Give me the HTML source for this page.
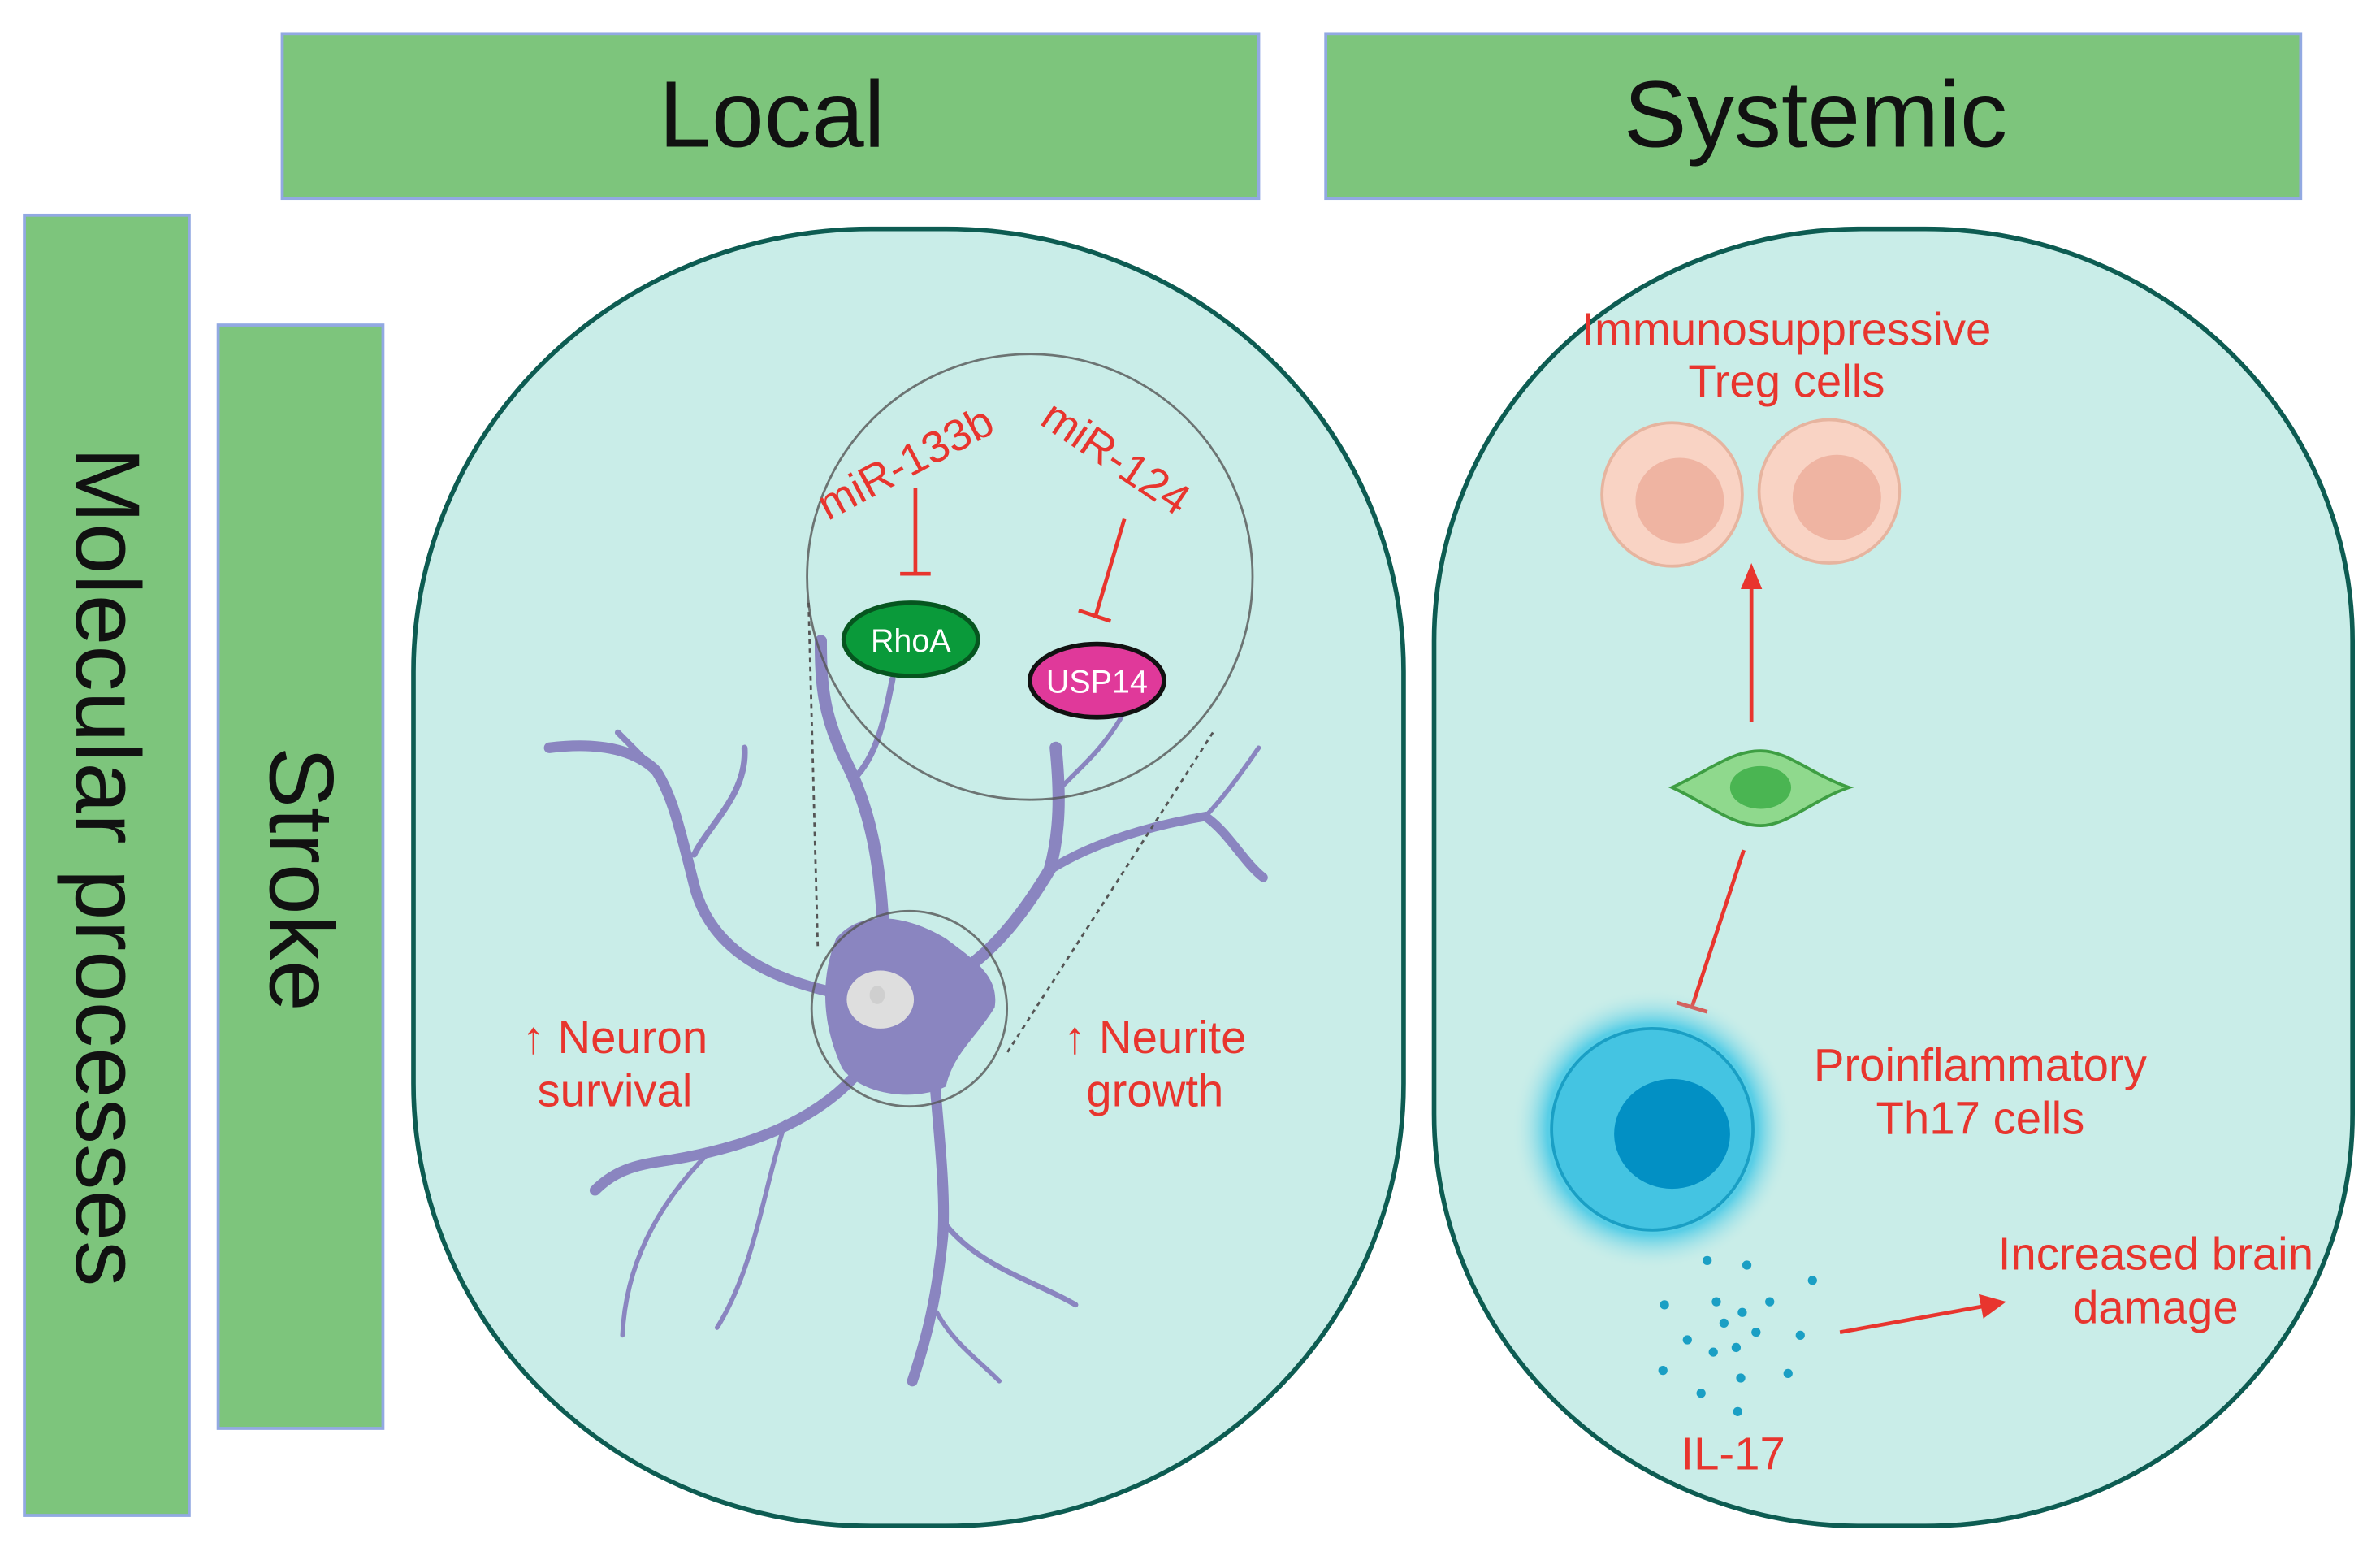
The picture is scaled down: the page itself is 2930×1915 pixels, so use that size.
<!DOCTYPE html>
<html><head><meta charset="utf-8"><style>
html,body{margin:0;padding:0;background:#fff;}
svg{display:block;}
text{font-family:"Liberation Sans",sans-serif;}
</style></head><body>
<svg width="2930" height="1915" viewBox="0 0 1560 1019.6" xmlns="http://www.w3.org/2000/svg">
<defs>
<radialGradient id="glow" cx="0.5" cy="0.5" r="0.5">
<stop offset="0.75" stop-color="#3cc6e6" stop-opacity="0.8"/>
<stop offset="1" stop-color="#c9ede8" stop-opacity="0"/>
</radialGradient>
</defs>
<rect width="1560" height="1020" fill="#fff"/>
<rect x="185" y="22" width="640" height="108" fill="#7dc57c" stroke="#92a9e2" stroke-width="2"/>
<text x="506" y="96" font-size="62" text-anchor="middle" fill="#111">Local</text>
<rect x="869" y="22" width="639" height="108" fill="#7dc57c" stroke="#92a9e2" stroke-width="2"/>
<text x="1190" y="96" font-size="62" text-anchor="middle" fill="#111">Systemic</text>
<rect x="16" y="141" width="108" height="852" fill="#7dc57c" stroke="#92a9e2" stroke-width="2"/>
<text transform="translate(50,568) rotate(90)" font-size="60" text-anchor="middle" fill="#111">Molecular processes</text>
<rect x="143" y="213" width="108" height="723" fill="#7dc57c" stroke="#92a9e2" stroke-width="2"/>
<text transform="translate(177,576) rotate(90)" font-size="60" text-anchor="middle" fill="#111">Stroke</text>
<rect x="271" y="150" width="649" height="850" rx="300" ry="290" fill="#c9ede8" stroke="#0d5c52" stroke-width="3"/>
<rect x="940" y="150" width="602" height="850" rx="280" ry="270" fill="#c9ede8" stroke="#0d5c52" stroke-width="3"/>

<g fill="none" stroke="#8a85c0" stroke-linecap="round">
<path d="M580 630 C578 580 575 540 555 500 C540 470 538 450 538 420" stroke-width="8"/>
<path d="M560 510 C575 495 580 470 585 445" stroke-width="4"/>
<path d="M545 650 C500 640 465 620 455 580 C445 540 440 520 430 505 C420 495 400 485 360 490" stroke-width="7"/>
<path d="M430 505 L405 480" stroke-width="4"/>
<path d="M455 560 C465 540 490 520 488 490" stroke-width="4"/>
<path d="M625 640 C650 625 670 600 688 570 C695 545 695 520 692 490" stroke-width="8"/>
<path d="M688 570 C720 550 760 540 790 535 C805 545 815 565 828 575" stroke-width="6"/>
<path d="M692 520 C705 505 720 495 735 470" stroke-width="3"/>
<path d="M790 535 C800 525 815 505 825 490" stroke-width="3"/>
<path d="M565 700 C540 730 500 750 440 760 C420 763 405 765 390 780" stroke-width="7"/>
<path d="M465 755 C430 790 410 830 408 875" stroke-width="3"/>
<path d="M515 735 C500 780 495 830 470 870" stroke-width="3"/>
<path d="M612 700 C615 740 620 780 618 810 C614 850 608 875 598 905" stroke-width="7"/>
<path d="M618 800 C640 830 680 840 705 855" stroke-width="3.5"/>
<path d="M614 860 C625 880 640 890 655 905" stroke-width="3"/>
</g>
<path d="M548 615 C565 595 595 600 620 615 C640 630 655 640 652 660 C640 680 625 690 620 712 C600 722 565 718 552 700 C538 670 538 640 548 615Z" fill="#8a85c0"/>
<ellipse cx="577" cy="655" rx="22" ry="19" fill="#dedede"/>
<ellipse cx="575" cy="652" rx="5" ry="6" fill="#cfcfcf"/>
<circle cx="596" cy="661" r="64" fill="none" stroke="#555" stroke-width="1.5" opacity="0.8"/>
<line x1="530" y1="395" x2="536" y2="620" stroke="#555" stroke-width="1.5" stroke-dasharray="3,3"/>
<line x1="795" y1="480" x2="660" y2="690" stroke="#555" stroke-width="1.5" stroke-dasharray="3,3"/>
<circle cx="675" cy="378" r="146" fill="none" stroke="#555" stroke-width="1.5" opacity="0.8"/>
<text transform="translate(598,312) rotate(-28)" font-size="29" text-anchor="middle" fill="#e8352e">miR-133b</text>
<text transform="translate(726,308) rotate(34)" font-size="29" text-anchor="middle" fill="#e8352e">miR-124</text>
<g stroke="#e8352e" stroke-width="2.5">
<line x1="600" y1="320" x2="600" y2="377"/><line x1="590" y1="376" x2="610" y2="376"/>
<line x1="737" y1="340" x2="718" y2="404"/><line x1="707" y1="400" x2="728" y2="407"/>
</g>
<ellipse cx="597" cy="419" rx="44" ry="24" fill="#0a9a3a" stroke="#06551f" stroke-width="3"/>
<text x="597" y="427" font-size="21" text-anchor="middle" fill="#fff">RhoA</text>
<ellipse cx="719" cy="446" rx="44" ry="24" fill="#e0399a" stroke="#111" stroke-width="3"/>
<text x="719" y="454" font-size="21" text-anchor="middle" fill="#fff">USP14</text>
<g font-size="30" text-anchor="middle" fill="#e8352e">
<text x="403" y="690">↑ Neuron</text><text x="403" y="725">survival</text>
<text x="757" y="690">↑ Neurite</text><text x="757" y="725">growth</text>
<text x="1171" y="226">Immunosuppressive</text><text x="1171" y="260">Treg cells</text>
<text x="1298" y="708">Proinflammatory</text><text x="1298" y="743">Th17 cells</text>
<text x="1413" y="832">Increased brain</text><text x="1413" y="867">damage</text>
<text x="1136" y="963">IL-17</text>
</g>
<ellipse cx="1096" cy="324" rx="46" ry="47" fill="#f9d3c4" stroke="#e6b49f" stroke-width="2"/>
<ellipse cx="1101" cy="328" rx="29" ry="28" fill="#efb4a2"/>
<ellipse cx="1199" cy="322" rx="46" ry="47" fill="#f9d3c4" stroke="#e6b49f" stroke-width="2"/>
<ellipse cx="1204" cy="326" rx="29" ry="28" fill="#efb4a2"/>
<line x1="1148" y1="473" x2="1148" y2="385" stroke="#e8352e" stroke-width="2.5"/>
<polygon points="1148,369 1141,386 1155,386" fill="#e8352e"/>
<path d="M1096 516 C1120 505 1135 492 1154 492 C1172 492 1188 508 1212 516 C1188 524 1172 541 1154 541 C1135 541 1120 527 1096 516Z" fill="#8fd98d" stroke="#3e9e43" stroke-width="2"/>
<ellipse cx="1154" cy="516" rx="20" ry="14" fill="#4ab552"/>
<g stroke="#e8352e" stroke-width="2.5">
<line x1="1143" y1="557" x2="1109" y2="660"/><line x1="1099" y1="657" x2="1119" y2="663"/>
</g>
<circle cx="1083" cy="740" r="92" fill="url(#glow)"/>
<circle cx="1083" cy="740" r="66" fill="#44c4e2" stroke="#1a9fc4" stroke-width="2"/>
<ellipse cx="1096" cy="743" rx="38" ry="36" fill="#0290c4"/>
<g fill="#1a9fc4">
<circle cx="1119" cy="826" r="3"/><circle cx="1145" cy="829" r="3"/><circle cx="1188" cy="839" r="3"/>
<circle cx="1091" cy="855" r="3"/><circle cx="1125" cy="853" r="3"/><circle cx="1142" cy="860" r="3"/><circle cx="1160" cy="853" r="3"/>
<circle cx="1130" cy="867" r="3"/><circle cx="1151" cy="873" r="3"/><circle cx="1180" cy="875" r="3"/><circle cx="1106" cy="878" r="3"/>
<circle cx="1138" cy="883" r="3"/><circle cx="1123" cy="886" r="3"/><circle cx="1090" cy="898" r="3"/><circle cx="1141" cy="903" r="3"/>
<circle cx="1172" cy="900" r="3"/><circle cx="1115" cy="913" r="3"/><circle cx="1139" cy="925" r="3"/>
</g>
<line x1="1206" y1="873" x2="1300" y2="856" stroke="#e8352e" stroke-width="2.5"/>
<polygon points="1315,853 1297,848 1300,864" fill="#e8352e"/>
</svg>
</body></html>
